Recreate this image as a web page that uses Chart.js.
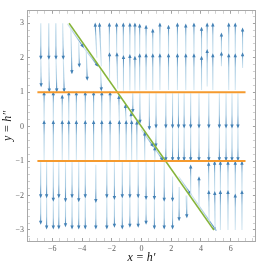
<!DOCTYPE html>
<html>
<head>
<meta charset="utf-8">
<script src="https://cdn.jsdelivr.net/npm/chart.js@4.4.1/dist/chart.umd.min.js"></script>
<style>
  html, body { margin: 0; padding: 0; background: #fff; }
  #wrap { width: 259px; height: 268px; }
</style>
</head>
<body>
<div id="wrap"><canvas id="c" width="259" height="268"></canvas></div>
<script>
// === Data (data units) ===
const X_LABELS = [-6, -4, -2, 0, 2, 4, 6];
const Y_LABELS = [-3, -2, -1, 0, 1, 2, 3];

// orange levels y = 1 and y = -1
const orangeLevels = [1, -1];
const orangeSpan = [-7, 7];

// green line
const greenX = [-4.87, 4.87];
const greenY = [3, -3];

// streamlines: tail first, every following vertex carries an arrowhead
// top band, left of the green line (flowing down)
const topLeftStreams = [
  [[-6.78, 3.0], [-6.77, 2.0], [-6.75, 1.2]],
  [[-6.25, 3.0], [-6.23, 2.0], [-6.2, 1.05]],
  [[-5.78, 3.0], [-5.75, 2.0], [-5.7, 1.05]],
  [[-5.3, 3.0], [-5.26, 2.0], [-5.2, 1.05]],
  [[-4.75, 2.88], [-4.68, 1.58]],
  [[-4.22, 2.45], [-4.18, 1.77]],
  [[-3.72, 2.25], [-3.65, 1.39]],
  [[-2.75, 1.65], [-2.7, 1.08]]
];
// top band, right of the green line (flowing up)
const topRightStreams = [
  [[-3.0, 2.0], [-3.11, 2.96]],
  [[-2.7, 1.75], [-2.82, 2.96]],
  [[-2.12, 1.4], [-2.15, 2.1], [-2.16, 2.96]],
  [[-1.6, 1.1], [-1.65, 2.1], [-1.67, 2.96]],
  [[-1.2, 1.05], [-1.21, 2.02], [-1.22, 2.96]],
  [[-0.78, 1.05], [-0.78, 2.05], [-0.78, 2.96]],
  [[-0.44, 1.05], [-0.44, 2.0], [-0.44, 2.96]],
  [[-0.12, 1.05], [-0.12, 2.07], [-0.12, 2.93]],
  [[0.31, 1.06], [0.31, 2.07], [0.31, 2.9]],
  [[0.76, 1.06], [0.76, 2.07], [0.76, 2.79]],
  [[1.24, 1.06], [1.24, 2.07], [1.24, 2.96]],
  [[1.82, 1.06], [1.82, 2.07], [1.82, 2.9]],
  [[2.42, 1.06], [2.42, 2.07], [2.42, 2.96]],
  [[2.98, 1.06], [2.98, 2.07], [2.98, 2.93]],
  [[3.53, 1.06], [3.53, 2.07], [3.53, 2.96]],
  [[4.04, 1.06], [4.04, 2.0], [4.04, 2.84]],
  [[4.42, 1.16], [4.42, 2.19], [4.42, 2.96]],
  [[4.8, 1.06], [4.8, 2.07], [4.8, 2.96]],
  [[5.38, 1.75], [5.38, 2.12], [5.38, 2.67]],
  [[5.87, 1.06], [5.87, 2.07], [5.87, 2.96]],
  [[6.31, 1.06], [6.31, 2.07], [6.31, 2.96]],
  [[6.8, 1.7], [6.8, 2.1], [6.8, 2.82]]
];
// middle band, left of the green line (flowing up)
const midLeftStreams = [
  [[-6.55, -0.97], [-6.55, 0.13], [-6.55, 0.97]],
  [[-5.93, -0.97], [-5.93, 0.13], [-5.93, 0.97]],
  [[-5.33, -0.97], [-5.33, 0.13], [-5.33, 0.87]],
  [[-4.89, -0.97], [-4.89, 0.13], [-4.89, 0.97]],
  [[-4.38, -0.97], [-4.38, 0.13], [-4.38, 0.97]],
  [[-3.78, -0.97], [-3.78, 0.13], [-3.78, 0.97]],
  [[-3.22, -0.97], [-3.22, 0.13], [-3.22, 0.97]],
  [[-2.67, -0.97], [-2.67, 0.13], [-2.67, 0.97]],
  [[-2.11, -0.97], [-2.11, 0.13], [-2.11, 0.97]],
  [[-1.49, -0.97], [-1.49, 0.13], [-1.52, 0.86]],
  [[-1.04, -0.97], [-1.03, 0.13], [-1.08, 0.6]],
  [[-0.67, -0.97], [-0.66, 0.13], [-0.7, 0.36]],
  [[-0.33, -0.97], [-0.31, 0.12]],
  [[0.2, -0.97], [0.22, -0.2]],
  [[0.88, -0.97], [0.9, -0.63]]
];
// middle band, right of the green line (flowing down)
const midRightStreams = [
  [[-0.6, 0.97], [-0.58, 0.45]],
  [[-0.12, 0.97], [-0.1, 0.14]],
  [[0.53, 0.97], [0.53, -0.05]],
  [[0.98, 0.97], [0.98, 0.0], [0.97, -0.55]],
  [[1.64, 0.97], [1.64, 0.0], [1.64, -0.95]],
  [[2.09, 0.97], [2.09, 0.0], [2.09, -0.95]],
  [[2.49, 0.97], [2.49, 0.0], [2.49, -0.95]],
  [[2.87, 0.97], [2.87, 0.0], [2.87, -0.95]],
  [[3.31, 0.97], [3.31, 0.0], [3.31, -0.95]],
  [[3.87, 0.97], [3.87, 0.0], [3.87, -0.95]],
  [[4.53, 0.97], [4.53, 0.0], [4.53, -0.95]],
  [[5.24, 0.97], [5.24, 0.0], [5.24, -0.95]],
  [[5.69, 0.97], [5.69, 0.0], [5.69, -0.95]],
  [[6.09, 0.97], [6.09, 0.0], [6.09, -0.95]],
  [[6.49, 0.97], [6.49, 0.0], [6.49, -0.95]]
];
// bottom band, left of the green line (flowing down)
const bottomLeftStreams = [
  [[-6.78, -1.03], [-6.78, -2.02], [-6.78, -2.79]],
  [[-6.38, -1.03], [-6.38, -2.02], [-6.38, -2.93]],
  [[-5.93, -1.03], [-5.93, -2.12], [-5.93, -2.93]],
  [[-5.56, -1.03], [-5.56, -2.02], [-5.56, -2.93]],
  [[-5.11, -1.03], [-5.11, -2.14], [-5.11, -2.86]],
  [[-4.67, -1.03], [-4.67, -2.02], [-4.67, -2.93]],
  [[-4.22, -1.03], [-4.22, -2.14], [-4.22, -2.93]],
  [[-3.78, -1.03], [-3.78, -2.02], [-3.78, -2.93]],
  [[-3.07, -1.11], [-3.07, -2.16], [-3.07, -2.93]],
  [[-2.33, -1.03], [-2.33, -2.02], [-2.33, -2.93]],
  [[-1.82, -1.03], [-1.82, -2.07], [-1.82, -2.88]],
  [[-1.29, -1.03], [-1.29, -2.02], [-1.29, -2.93]],
  [[-0.78, -1.03], [-0.78, -2.02], [-0.78, -2.88]],
  [[-0.22, -1.03], [-0.22, -2.02], [-0.22, -2.88]],
  [[0.31, -1.03], [0.31, -2.07], [0.31, -2.79]],
  [[0.87, -1.03], [0.87, -2.07], [0.87, -2.93]],
  [[1.53, -1.03], [1.53, -2.12], [1.53, -2.93]],
  [[2.09, -1.45], [2.09, -2.12], [2.09, -2.93]],
  [[2.55, -1.75], [2.53, -2.69]],
  [[3.0, -2.0], [3.05, -2.6]]
];
// bottom band, right of the green line (flowing up)
const bottomRightStreams = [
  [[3.33, -2.0], [3.31, -1.16]],
  [[3.85, -2.35], [3.87, -1.5]],
  [[4.55, -2.75], [4.53, -1.9], [4.52, -1.08]],
  [[4.95, -3.0], [4.93, -1.93], [4.92, -1.05]],
  [[5.31, -3.0], [5.31, -1.9], [5.31, -1.05]],
  [[5.82, -3.0], [5.82, -1.9], [5.82, -1.05]],
  [[6.31, -3.0], [6.31, -2.0], [6.31, -1.05]],
  [[6.76, -3.0], [6.76, -1.9], [6.76, -1.05]]
];
// streamlines hugging the green line
const lineStreams = [
  [[-4.98, 2.98], [-3.95, 2.33], [-2.98, 1.78]],
  [[-0.02, -0.08], [0.75, -0.55], [1.4, -0.95]],
  [[2.5, -1.45], [3.28, -1.93], [4.97, -2.98]]
];

// === Styles ===
const STREAM_LIGHT = '#d6e8f2';
const STREAM_MID = '#a3c8e0';
const STREAM_DARK = '#4482b6';
const ORANGE = '#f59a2e';
const GREEN = '#86b43a';
const FRAME = '#a8a8a8';
const TICK_FONT = { family: 'Liberation Serif', size: 8 };

// === Helpers ===
const near = (v, step) => Math.abs(v / step - Math.round(v / step)) < 1e-6;
const fmt = (v) => { const r = Math.round(v); return r < 0 ? '\u2212' + Math.abs(r) : String(r); };
const toPts = (arr) => arr.map(([x, y]) => ({ x, y }));

function segGradient(chart, seg) {
  const sx = chart.scales.x, sy = chart.scales.y;
  if (!chart.chartArea || !sx || !sy) return STREAM_DARK;
  const g = chart.ctx.createLinearGradient(
    sx.getPixelForValue(seg[0][0]), sy.getPixelForValue(seg[0][1]),
    sx.getPixelForValue(seg[1][0]), sy.getPixelForValue(seg[1][1]));
  g.addColorStop(0, STREAM_LIGHT);
  g.addColorStop(0.65, STREAM_MID);
  g.addColorStop(1, STREAM_DARK);
  return g;
}

// split every streamline into segments ending in an arrowhead
const allStreams = [].concat(topLeftStreams, topRightStreams, midLeftStreams,
  midRightStreams, bottomLeftStreams, bottomRightStreams, lineStreams);
const streamSets = [];
allStreams.forEach(s => {
  for (let i = 1; i < s.length; i++) {
    const seg = [s[i - 1], s[i]];
    streamSets.push({
      data: toPts(seg),
      showLine: true,
      pointRadius: 0,
      borderWidth: 1.1,
      borderColor: (c) => segGradient(c.chart, seg),
      arrow: true,
      order: 2
    });
  }
});

const lineSets = [
  ...orangeLevels.map(l => ({
    data: orangeSpan.map(x => ({ x, y: l })),
    showLine: true, pointRadius: 0, borderWidth: 2, borderColor: ORANGE, order: 0
  })),
  {
    data: greenX.map((x, i) => ({ x, y: greenY[i] })),
    showLine: true, pointRadius: 0, borderWidth: 1.5, borderColor: GREEN, order: 1
  }
];

// arrowheads at the end of every stream segment
const arrowPlugin = {
  id: 'arrows',
  afterDatasetDraw(chart, args) {
    const ds = chart.data.datasets[args.index];
    if (!ds.arrow) return;
    const sx = chart.scales.x, sy = chart.scales.y;
    const a = ds.data[ds.data.length - 2], b = ds.data[ds.data.length - 1];
    const x0 = sx.getPixelForValue(a.x), y0 = sy.getPixelForValue(a.y);
    const x1 = sx.getPixelForValue(b.x), y1 = sy.getPixelForValue(b.y);
    const len = Math.hypot(x1 - x0, y1 - y0) || 1;
    const ux = (x1 - x0) / len, uy = (y1 - y0) / len;
    const L = 4, W = 1.7;
    const tx = x1 + ux * L * 0.5, ty = y1 + uy * L * 0.5;
    const bx = x1 - ux * L * 0.5, by = y1 - uy * L * 0.5;
    const ctx = chart.ctx;
    ctx.save();
    ctx.beginPath();
    ctx.rect(chart.chartArea.left, chart.chartArea.top, chart.chartArea.width, chart.chartArea.height);
    ctx.clip();
    ctx.fillStyle = STREAM_DARK;
    ctx.beginPath();
    ctx.moveTo(tx, ty);
    ctx.lineTo(bx - uy * W, by + ux * W);
    ctx.lineTo(bx + uy * W, by - ux * W);
    ctx.closePath();
    ctx.fill();
    ctx.restore();
  }
};

function frameAxis(position, step, majors, labelled, size) {
  return {
    type: 'linear',
    position,
    grid: {
      drawOnChartArea: false,
      tickLength: -3,
      tickColor: (c) => (c.tick && near(c.tick.value, majors)) ? '#8a8a8a' : '#c4c4c4',
      tickWidth: 0.8
    },
    border: { display: true, color: FRAME, width: 1 },
    ticks: {
      stepSize: step,
      includeBounds: false,
      autoSkip: false,
      maxRotation: 0,
      padding: 6,
      font: TICK_FONT,
      color: '#606060',
      callback: (v) => (labelled && near(v, majors)) ? fmt(v) : ''
    },
    afterFit: (s) => { if (s.isHorizontal()) s.height = size; else s.width = size; }
  };
}

const xAxis = Object.assign(frameAxis('bottom', 0.5, 2, true, 27), {
  min: -7.7, max: 7.7,
  title: { display: true, text: 'x = h\u2032', color: '#111',
    font: { family: 'Liberation Serif', style: 'italic', size: 12 }, padding: { top: 0, bottom: 3 } }
});
const x2Axis = Object.assign(frameAxis('top', 0.5, 2, false, 8), { min: -7.7, max: 7.7 });
const yAxis = Object.assign(frameAxis('left', 0.2, 1, true, 27), {
  min: -3.32, max: 3.36,
  title: { display: true, text: 'y = h\u2033', color: '#111',
    font: { family: 'Liberation Serif', style: 'italic', size: 12 }, padding: { top: 1, bottom: 0 } }
});
const y2Axis = Object.assign(frameAxis('right', 0.2, 1, false, 1), { min: -3.32, max: 3.36 });

new Chart(document.getElementById('c'), {
  type: 'scatter',
  data: { datasets: lineSets.concat(streamSets) },
  options: {
    responsive: false,
    animation: false,
    events: [],
    layout: { padding: 0 },
    plugins: { legend: { display: false }, tooltip: { enabled: false } },
    scales: { x: xAxis, x2: x2Axis, y: yAxis, y2: y2Axis }
  },
  plugins: [arrowPlugin]
});
</script>
</body>
</html>
